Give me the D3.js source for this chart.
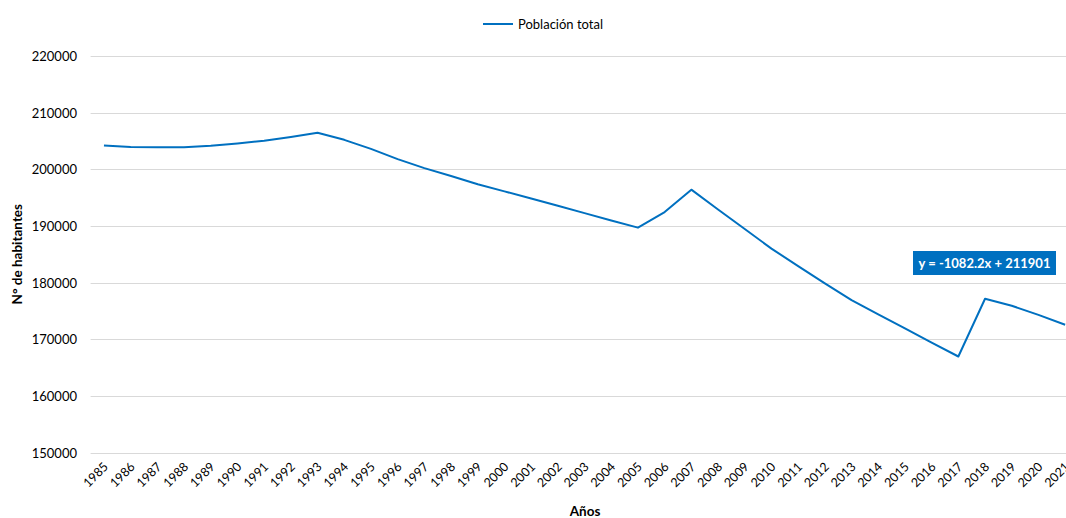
<!DOCTYPE html>
<html>
<head>
<meta charset="utf-8">
<script src="https://cdn.jsdelivr.net/npm/d3@7"></script>
<style>
  html, body { margin: 0; padding: 0; background: #fff; }
  svg { display: block; font-family: "Lato", "Open Sans", sans-serif; }
</style>
</head>
<body>
<div id="chart"></div>
<script>
// Population series, 1985–2021
const years = [1985,1986,1987,1988,1989,1990,1991,1992,1993,1994,1995,1996,1997,1998,1999,
  2000,2001,2002,2003,2004,2005,2006,2007,2008,2009,2010,2011,2012,2013,2014,2015,2016,2017,2018,2019,2020,2021];
const population = [204200,203950,203900,203900,204150,204550,205050,205700,206450,205200,203600,201800,200200,198800,197350,
  196100,194830,193550,192260,190960,189700,192450,196400,192900,189450,186000,182900,179850,176900,174400,171900,169400,166950,177150,175900,174300,172550];
const yTicks = [150000,160000,170000,180000,190000,200000,210000,220000];
const seriesName = "Población total";
const trendLabel = "y = -1082.2x + 211901";
const yTitle = "N° de habitantes";
const xTitle = "Años";

const W = 1066, H = 518;
const blue = "#0070C0";
const svg = d3.select("#chart").append("svg").attr("width", W).attr("height", H);

const plotLeft = 90.6, step = 26.7, plotTop = 56, plotBottom = 452.5;
const x = d3.scaleBand().domain(years).range([plotLeft, plotLeft + step * years.length]).padding(0);
const y = d3.scaleLinear().domain([150000, 220000]).range([plotBottom, plotTop]);

// horizontal gridlines
svg.append("g").selectAll("line").data(yTicks).join("line")
  .attr("x1", plotLeft).attr("x2", x.range()[1])
  .attr("y1", d => Math.round(y(d)) + 0.5).attr("y2", d => Math.round(y(d)) + 0.5)
  .attr("stroke", "#d9d9d9").attr("stroke-width", 1);

// y axis labels
const yAxis = d3.axisLeft(y).tickValues(yTicks).tickSize(0).tickPadding(0).tickFormat(d3.format("d"));
svg.append("g").attr("transform", "translate(77,0)").call(yAxis)
  .call(g => g.select(".domain").remove())
  .call(g => g.selectAll("text").attr("font-size", 13).attr("fill", "#000")
    .attr("font-family", "Lato, sans-serif").attr("dy", "0.35em"));

// x axis labels, rotated
const xAxis = d3.axisBottom(x).tickSize(0).tickPadding(0);
svg.append("g").attr("transform", `translate(0,${plotBottom})`).call(xAxis)
  .call(g => g.select(".domain").remove())
  .call(g => g.selectAll("text")
    .attr("font-size", 12.5).attr("fill", "#000").attr("font-family", "Lato, sans-serif")
    .attr("text-anchor", "end").attr("dy", null).attr("y", null)
    .attr("transform", "translate(5,15) rotate(-45)"));

// series line
const line = d3.line().x((d, i) => x(years[i]) + x.bandwidth() / 2).y(d => y(d));
svg.append("path").datum(population)
  .attr("d", line).attr("fill", "none").attr("stroke", blue)
  .attr("stroke-width", 2).attr("stroke-linejoin", "round");

// legend
svg.append("line").attr("x1", 483).attr("x2", 513).attr("y1", 24).attr("y2", 24)
  .attr("stroke", blue).attr("stroke-width", 2);
svg.append("text").attr("x", 518).attr("y", 28.5).attr("font-size", 13).attr("fill", "#000")
  .text(seriesName);

// trendline equation label
const lab = svg.append("g").attr("transform", "translate(913,251)");
lab.append("rect").attr("width", 143).attr("height", 24).attr("fill", blue);
lab.append("text").attr("x", 71.5).attr("y", 17).attr("text-anchor", "middle")
  .attr("font-size", 13).attr("font-weight", "bold").attr("fill", "#fff").text(trendLabel);

// axis titles
svg.append("text").attr("transform", `translate(22,${(plotTop + plotBottom) / 2}) rotate(-90)`)
  .attr("text-anchor", "middle").attr("font-size", 13.5).attr("font-weight", "bold").attr("fill", "#000")
  .text(yTitle);
svg.append("text").attr("x", 585).attr("y", 516).attr("text-anchor", "middle")
  .attr("font-size", 13.5).attr("font-weight", "bold").attr("fill", "#000").text(xTitle);
</script>
</body>
</html>
